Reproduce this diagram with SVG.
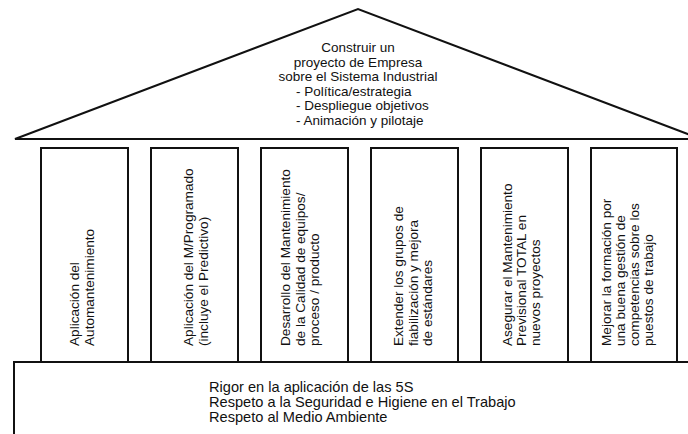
<svg xmlns="http://www.w3.org/2000/svg" width="688" height="434" viewBox="0 0 688 434">
  <style>
    .shape { fill: #ffffff; stroke: #111111; stroke-width: 2; }
    .label { font-family: "Liberation Sans", Arial, sans-serif; fill: #111111; }
    .roof-text { font-size: 13.5px; }
    .pillar-text { font-size: 13.6px; }
    .base-text { font-size: 14.6px; }
    .center { text-anchor: middle; }
  </style>
  <rect x="0" y="0" width="688" height="434" fill="#ffffff"/>

  <!-- Roof: company project -->
  <g id="roof">
    <path class="shape" d="M15,139 L358,9 L701,139 Z" stroke-linejoin="miter"/>
    <text class="label roof-text center" x="358" y="52">Construir un</text>
    <text class="label roof-text center" x="358" y="66.5">proyecto de Empresa</text>
    <text class="label roof-text center" x="358" y="81">sobre el Sistema Industrial</text>
    <text class="label roof-text" x="296" y="95.5">- Política/estrategia</text>
    <text class="label roof-text" x="296" y="110">- Despliegue objetivos</text>
    <text class="label roof-text" x="296" y="124.5">- Animación y pilotaje</text>
  </g>

  <!-- Pillars: text runs bottom-to-top -->
  <g id="pillar-1">
    <rect class="shape" x="41" y="148" width="87" height="214"/>
    <text class="label pillar-text" transform="translate(79,346) rotate(-90)">
      <tspan x="0" y="0">Aplicación del</tspan>
      <tspan x="0" y="15">Automantenimiento</tspan>
    </text>
  </g>
  <g id="pillar-2">
    <rect class="shape" x="151" y="148" width="87" height="214"/>
    <text class="label pillar-text" transform="translate(193,346) rotate(-90)">
      <tspan x="0" y="0">Aplicación del M/Programado</tspan>
      <tspan x="0" y="14.5">(incluye el Predictivo)</tspan>
    </text>
  </g>
  <g id="pillar-3">
    <rect class="shape" x="261" y="148" width="87" height="214"/>
    <text class="label pillar-text" transform="translate(290,346) rotate(-90)">
      <tspan x="0" y="0">Desarrollo del Mantenimiento</tspan>
      <tspan x="0" y="14.5">de la Calidad de equipos/</tspan>
      <tspan x="0" y="29">proceso / producto</tspan>
    </text>
  </g>
  <g id="pillar-4">
    <rect class="shape" x="371" y="148" width="87" height="214"/>
    <text class="label pillar-text" transform="translate(403,346) rotate(-90)">
      <tspan x="0" y="0">Extender los grupos de</tspan>
      <tspan x="0" y="14.5">fiabilización y mejora</tspan>
      <tspan x="0" y="29">de estándares</tspan>
    </text>
  </g>
  <g id="pillar-5">
    <rect class="shape" x="481" y="148" width="87" height="214"/>
    <text class="label pillar-text" transform="translate(512,346) rotate(-90)">
      <tspan x="0" y="0">Asegurar el Mantenimiento</tspan>
      <tspan x="0" y="14">Previsional  TOTAL en</tspan>
      <tspan x="0" y="28">nuevos proyectos</tspan>
    </text>
  </g>
  <g id="pillar-6">
    <rect class="shape" x="591" y="148" width="86" height="214"/>
    <text class="label pillar-text" transform="translate(611,346) rotate(-90)">
      <tspan x="0" y="0">Mejorar la formación por</tspan>
      <tspan x="0" y="14">una buena gestión de</tspan>
      <tspan x="0" y="28">competencias sobre los</tspan>
      <tspan x="0" y="42">puestos de trabajo</tspan>
    </text>
  </g>

  <!-- Foundation -->
  <g id="base">
    <rect class="shape" x="14" y="362" width="690" height="100"/>
    <text class="label base-text" x="209" y="392">Rigor en la aplicación de las 5S</text>
    <text class="label base-text" x="209" y="407">Respeto a la Seguridad e Higiene en el Trabajo</text>
    <text class="label base-text" x="209" y="422">Respeto al Medio Ambiente</text>
  </g>

  <g id="connectors"/>
</svg>
